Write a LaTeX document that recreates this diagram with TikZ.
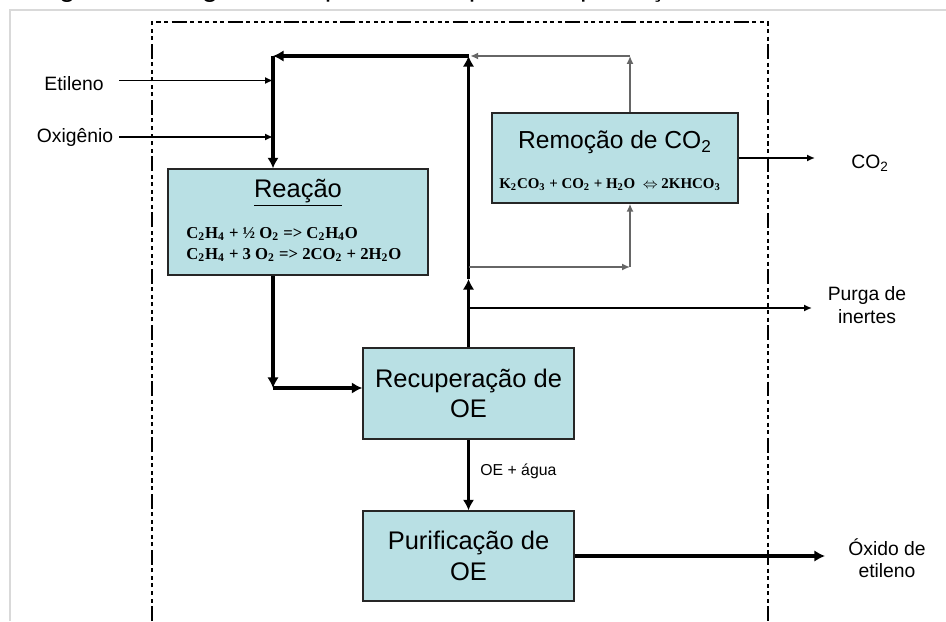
\documentclass[tikz,border=0pt]{standalone}
\usepackage{fontspec}
\setmainfont{Liberation Sans}
\newfontfamily\eqfont{Liberation Serif}
\newfontfamily\capfont{Carlito}
\usepackage{xcolor}
\usetikzlibrary{arrows.meta}
\usetikzlibrary{backgrounds,calc}
\pgfdeclarelayer{edgelayer}
\pgfdeclarelayer{nodelayer}
\pgfsetlayers{background,edgelayer,nodelayer,main}
\definecolor{boxfill}{RGB}{185,224,228}
\tikzstyle{none}=[inner sep=0mm]
\tikzstyle{block}=[shape=rectangle,draw=black!85,line width=0.8pt,fill=boxfill,inner sep=0pt,align=center,font=\fontsize{14.5}{17.5}\selectfont]
\tikzstyle{stream}=[inner sep=0mm,align=center,font=\fontsize{11}{12.8}\selectfont]
\tikzstyle{eqn}=[inner sep=0mm,align=left,font=\eqfont\bfseries\fontsize{9.5}{12}\selectfont]
\tikzstyle{main flow}=[line width=2pt,-{Latex[length=6pt,width=6.5pt]}]
\tikzstyle{thin flow}=[line width=1pt,-{Latex[length=4.5pt,width=4pt]}]
\tikzstyle{loop flow}=[line width=1.1pt,draw=black!60,-{Latex[length=4.5pt,width=4pt]}]
\tikzstyle{limit}=[line width=0.75pt,dash pattern=on 8.5pt off 2pt on 2.3pt off 2pt on 2.3pt off 2pt on 2.3pt off 2pt on 2.3pt off 2pt on 2.3pt off 2pt]

\begin{document}
\begin{tikzpicture}
	\useasboundingbox (0,0) rectangle (18.92,-12.42);
	\draw[gray!30,line width=0.8pt] (0.2,-12.42) -- (0.2,-0.2) -- (18.92,-0.2);
	\draw[style=limit] (3.04,-12.42) -- (3.04,-0.44) -- (15.36,-0.44) -- (15.36,-12.42);
	\begin{pgfonlayer}{nodelayer}
		% caption of the figure, cut at the top edge
		\node [style=none, anchor=base west, font=\capfont\fontsize{16.5}{19}\selectfont] (caption) at (0.8, 0.05) {Figura 1 -- Diagrama simplificado do processo produção de óxido de etileno};
		\node [style=block, minimum width=5.2cm, minimum height=2.12cm] (reacao) at (5.96, -4.44) {};
		\node [style=none, font=\fontsize{14.5}{17.5}\selectfont] (reacaotit) at (5.96, -3.86) {\underline{Reação}};
		\node [style=eqn, anchor=west] (reacaoeq) at (3.72, -4.89) {C\textsubscript{2}H\textsubscript{4} + ½ O\textsubscript{2} => C\textsubscript{2}H\textsubscript{4}O\\C\textsubscript{2}H\textsubscript{4} + 3 O\textsubscript{2} => 2CO\textsubscript{2} + 2H\textsubscript{2}O};
		\node [style=block, minimum width=4.92cm, minimum height=1.8cm] (remocao) at (12.3, -3.16) {};
		\node [style=none, font=\fontsize{14}{17}\selectfont] (remocaotit) at (12.3, -2.84) {Remoção de CO\textsubscript{2}};
		\node [style=eqn, font=\eqfont\bfseries\fontsize{8.5}{10}\selectfont] (remocaoeq) at (12.2, -3.7) {K\textsubscript{2}CO\textsubscript{3} + CO\textsubscript{2} + H\textsubscript{2}O \ $\Leftrightarrow$ 2KHCO\textsubscript{3}};
		\node [style=block, minimum width=4.22cm, minimum height=1.82cm] (recup) at (9.37, -7.87) {Recuperação de\\OE};
		\node [style=block, minimum width=4.22cm, minimum height=1.8cm] (purif) at (9.37, -11.12) {Purificação de\\OE};
		\node [style=stream] (etileno) at (1.48, -1.68) {Etileno};
		\node [style=stream] (oxigenio) at (1.5, -2.75) {Oxigênio};
		\node [style=stream] (co2) at (17.4, -3.26) {CO\textsubscript{2}};
		\node [style=stream] (purga) at (17.34, -6.1) {Purga de\\inertes};
		\node [style=stream] (oxido) at (17.74, -11.16) {Óxido de\\etileno};
		\node [style=stream, anchor=west, font=\fontsize{9}{11}\selectfont] (agua) at (9.6, -9.42) {OE + água};
		\node [style=none] (ein) at (2.38, -1.61) {};
		\node [style=none] (oin) at (2.38, -2.74) {};
		\node [style=none] (mixtop) at (5.46, -1.12) {};
		\node [style=none] (rectop) at (9.37, -1.12) {};
		\node [style=none] (recarrow) at (9.37, -5.58) {};
		\node [style=none] (split) at (9.37, -5.34) {};
		\node [style=none] (remcorner) at (12.6, -5.34) {};
		\node [style=none] (remtop) at (12.6, -1.12) {};
		\node [style=none] (purgein) at (9.37, -6.16) {};
		\node [style=none] (purgeout) at (16.24, -6.16) {};
		\node [style=none] (co2out) at (16.3, -3.16) {};
		\node [style=none] (rcorner) at (5.46, -7.76) {};
		\node [style=none] (oxout) at (16.5, -11.12) {};
	\end{pgfonlayer}
	\begin{pgfonlayer}{edgelayer}
		\draw[style=thin flow] (ein.center) to (ein -| mixtop);
		\draw[style=thin flow] (oin.center) to (oin -| mixtop);
		\draw[style=main flow] (rectop.center) to (mixtop.center);
		\draw[style=main flow] (mixtop.center) to (mixtop |- reacao.north);
		\draw[style=main flow] (mixtop |- reacao.south) to (rcorner.center);
		\draw[style=main flow] (rcorner.center) to (rcorner -| recup.west);
		\draw[style=main flow] (recup.north) to (recarrow.center);
		\draw[style=main flow] (recarrow.center) to (rectop.center);
		\draw[style=loop flow] (split.center) to (remcorner.center);
		\draw[style=loop flow] (remcorner.center) to (remcorner |- remocao.south);
		\draw[style=loop flow] (remtop |- remocao.north) to (remtop.center);
		\draw[style=loop flow, shorten >=1pt] (remtop.center) to (rectop.center);
		\draw[style=thin flow] (purgein.center) to (purgeout.center);
		\draw[style=thin flow] (remocao.east) to (co2out.center);
		\draw[style=main flow, line width=1.5pt] (recup.south) to (purif.north);
		\draw[style=main flow] (purif.east) to (oxout.center);
	\end{pgfonlayer}
\end{tikzpicture}
\end{document}
